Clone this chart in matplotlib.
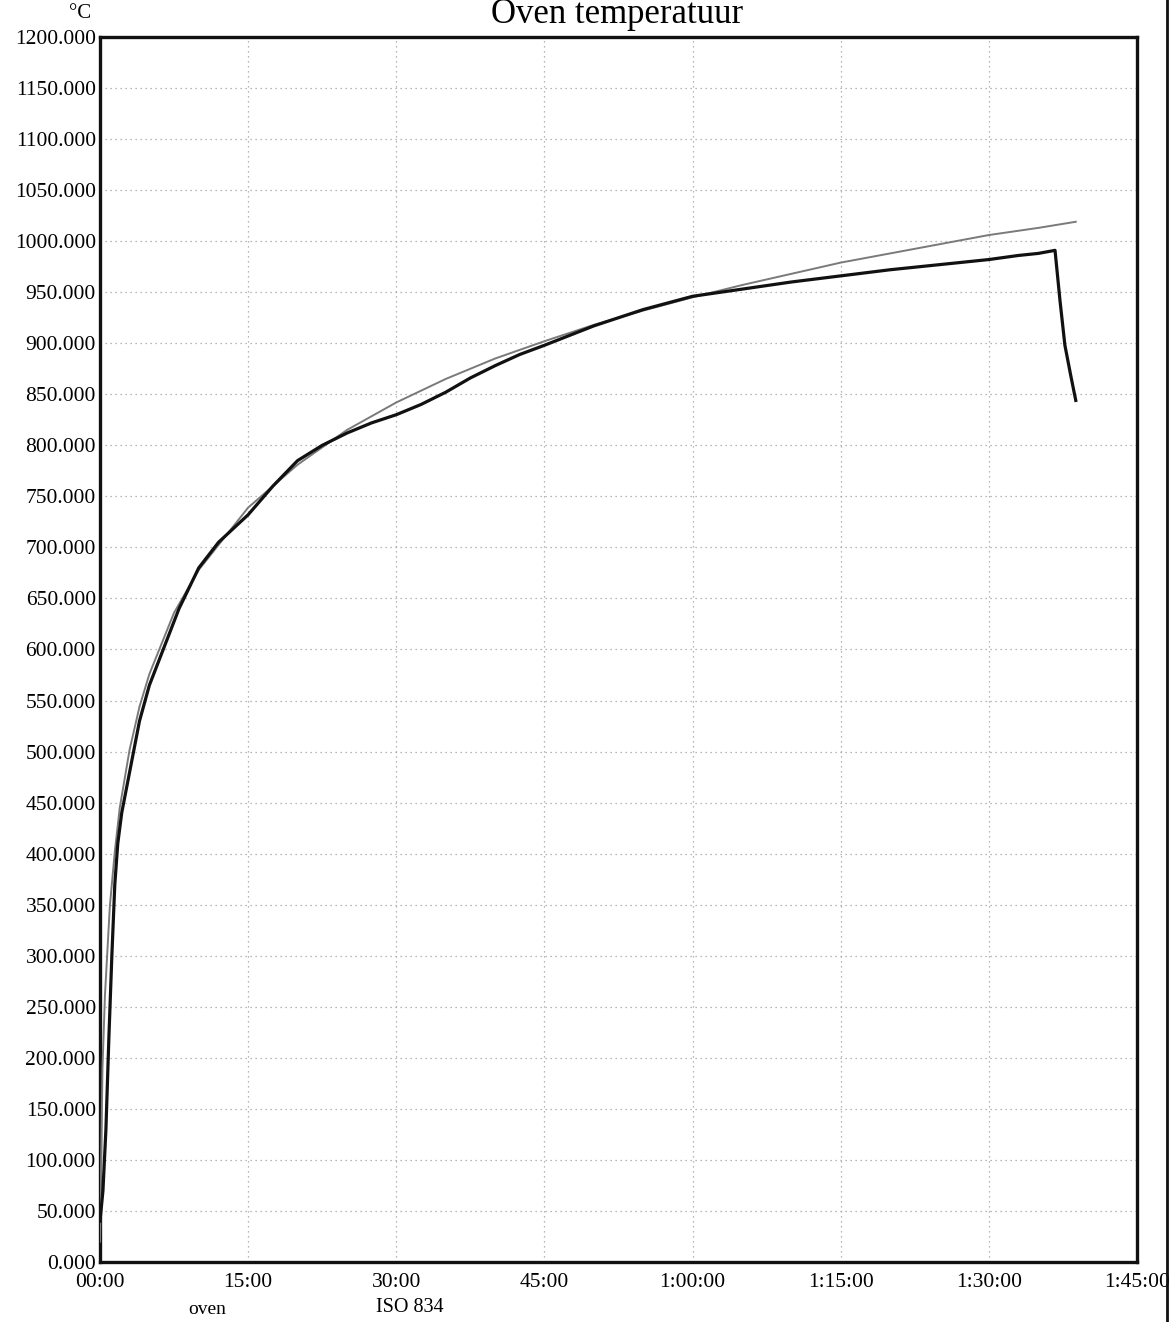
import matplotlib
matplotlib.use("Agg")
import matplotlib.pyplot as plt
from matplotlib.lines import Line2D

# ---- data (minutes, °C) ----
oven_t = [0.0, 0.3, 0.6, 0.9, 1.2, 1.5, 1.8, 2.2, 3.0, 4.0, 5.0, 6.0, 8.0, 10.0,
          12.0, 15.0, 17.5, 20.0, 22.5, 25.0, 27.5, 30.0, 32.5, 35.0, 37.5, 40.0,
          42.5, 45.0, 50.0, 55.0, 60.0, 65.0, 70.0, 75.0, 80.0, 85.0, 90.0, 93.0,
          95.0, 96.7, 97.2, 97.7, 98.3, 98.8]
oven_T = [40, 70, 130, 220, 300, 370, 410, 440, 480, 530, 565, 590, 640, 680,
          705, 732, 760, 785, 800, 812, 822, 830, 840, 852, 866, 878,
          889, 898, 917, 933, 946, 953, 960, 966, 972, 977, 982, 986,
          988, 991, 942, 898, 868, 844]

iso_t = [0.0, 0.25, 0.5, 1.0, 1.5, 2.0, 3.0, 4.0, 5.0, 7.5, 10.0, 15.0, 20.0, 25.0,
         30.0, 35.0, 40.0, 45.0, 50.0, 55.0, 60.0, 65.0, 70.0, 75.0, 80.0, 85.0,
         90.0, 95.0, 98.8]
iso_T = [20, 190, 261, 349, 402, 445, 502, 544, 576, 636, 678, 739, 781, 815,
         842, 865, 885, 902, 918, 932, 945, 957, 968, 979, 988, 997,
         1006, 1013, 1019]

x_ticks = [0, 15, 30, 45, 60, 75, 90, 105]
x_labels = ["00:00", "15:00", "30:00", "45:00", "1:00:00", "1:15:00", "1:30:00", "1:45:00"]
y_ticks = list(range(0, 1201, 50))

title = "Oven temperatuur"
series_names = ["oven", "ISO 834"]

serif = ["Liberation Serif", "DejaVu Serif"]
plt.rcParams["font.family"] = serif

fig = plt.figure(figsize=(11.74, 13.22), dpi=100)
ax = fig.add_axes([100 / 1174, 1 - 1262 / 1322, 1037 / 1174, 1225 / 1322])

ax.plot(iso_t, iso_T, color="#7a7a7a", lw=1.4, zorder=3)
ax.plot(oven_t, oven_T, color="#111111", lw=2.3, zorder=4)

ax.set_xlim(0, 105)
ax.set_ylim(0, 1200)
ax.set_xticks(x_ticks)
ax.set_xticklabels(x_labels, fontsize=15.5)
ax.set_yticks(y_ticks)
ax.set_yticklabels([f"{v:.3f}" for v in y_ticks], fontsize=15.5)
ax.tick_params(axis="both", length=0, pad=3)
ax.tick_params(axis="x", pad=8)

ax.grid(True, color="#a0a0a0", linestyle=(0, (1, 3)), linewidth=0.9)
for s in ax.spines.values():
    s.set_linewidth(2.4)
    s.set_color("#111111")

fig.text(617 / 1174, 1 - 23 / 1322, title, fontsize=25, ha="center", va="baseline")
fig.text(91 / 1174, 1 - 13 / 1322, "°C", fontsize=15, ha="right", va="center")

fig.text(207 / 1174, 1 - 1310 / 1322, series_names[0], fontsize=14, ha="center", va="center")
fig.text(410 / 1174, 1 - 1308 / 1322, series_names[1], fontsize=14.5, ha="center", va="center")

fig.add_artist(Line2D([1167 / 1174, 1167 / 1174], [0, 1], transform=fig.transFigure,
                      color="#111111", lw=2))

fig.savefig("out.png", dpi=100, facecolor="white")
